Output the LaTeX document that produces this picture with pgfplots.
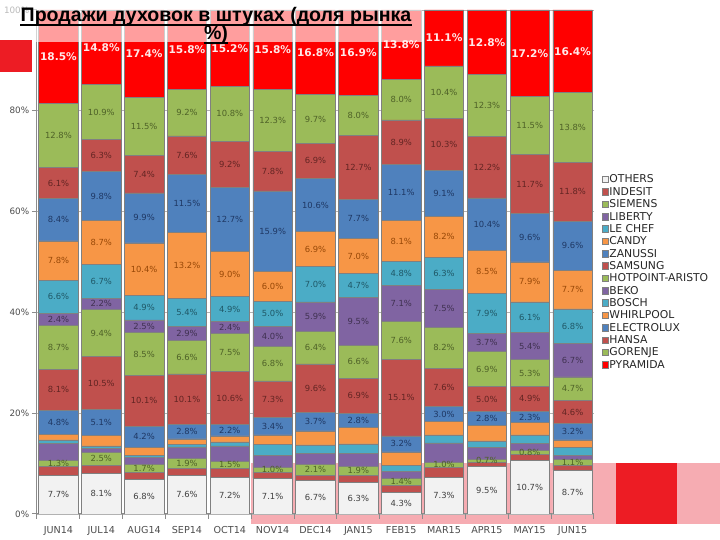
\documentclass[border=0pt]{standalone}
\usepackage{pgfplots}
\pgfplotsset{compat=1.18}
\usepackage{pgfplotstable}
\usepackage{fontspec}
\setmainfont{DejaVu Sans}
\newfontfamily\titlefont{Liberation Sans}
\definecolor{cOth}{RGB}{242,242,242}
\definecolor{cRed}{RGB}{192,80,77}
\definecolor{cGrn}{RGB}{155,187,89}
\definecolor{cPur}{RGB}{128,100,162}
\definecolor{cAqu}{RGB}{75,172,198}
\definecolor{cOrg}{RGB}{247,150,70}
\definecolor{cBlu}{RGB}{79,129,189}
\definecolor{cPyr}{RGB}{255,0,0}
\definecolor{tRed}{RGB}{99,37,35}
\definecolor{tGrn}{RGB}{79,98,40}
\definecolor{tPur}{RGB}{64,49,81}
\definecolor{tAqu}{RGB}{32,88,103}
\definecolor{tOrg}{RGB}{152,72,7}
\definecolor{tBlu}{RGB}{31,56,100}
\definecolor{tOth}{RGB}{64,64,64}
\definecolor{tPyr}{RGB}{255,232,232}
\definecolor{pinkband}{RGB}{246,172,178}
\definecolor{decored}{RGB}{237,28,36}
\newcommand\lblfont{\fontsize{4.2}{5}\selectfont}
\newcommand\lblfontB{\bfseries\fontsize{5.3}{6}\selectfont}

\pgfplotstableread{
x  OTH  IND SIE LIB LEC CAN ZAN SAM  HOT BEK BOS WHI  ELE  HAN  GOR  PYR
0  7.7  1.7 1.3 3.3 0.7 1.1 4.8 8.1  8.7 2.4 6.6 7.8  8.4  6.1  12.8 18.5
1  8.1  1.6 2.5 0.8 0.5 2.1 5.1 10.5 9.4 2.2 6.7 8.7  9.8  6.3  10.9 14.8
2  6.8  1.4 1.7 1.3 0.5 1.5 4.2 10.1 8.5 2.5 4.9 10.4 9.9  7.4  11.5 17.4
3  7.6  1.5 1.9 2.3 0.5 1.1 2.8 10.1 6.6 2.9 5.4 13.2 11.5 7.6  9.2  15.8
4  7.2  1.8 1.5 3.0 0.8 1.2 2.2 10.6 7.5 2.4 4.9 9.0  12.7 9.2  10.8 15.2
5  7.1  1.2 1.0 2.3 2.2 1.9 3.4 7.3  6.8 4.0 5.0 6.0  15.9 7.8  12.3 15.8
6  6.7  1.0 2.1 2.3 1.6 2.8 3.7 9.6  6.4 5.9 7.0 6.9  10.6 6.9  9.7  16.8
7  6.3  1.3 1.9 2.5 1.9 3.3 2.8 6.9  6.6 9.5 4.7 7.0  7.7  12.7 8.0  16.9
8  4.3  1.4 1.4 1.3 1.2 2.7 3.2 15.1 7.6 7.1 4.8 8.1  11.1 8.9  8.0  13.8
9  7.3  2.0 1.0 3.8 1.6 2.6 3.0 7.6  8.2 7.5 6.3 8.2  9.1  10.3 10.4 11.1
10 9.5  0.7 0.7 2.3 1.3 3.0 2.8 5.0  6.9 3.7 7.9 8.5  10.4 12.2 12.3 12.8
11 10.7 1.1 0.8 1.4 1.7 2.4 2.3 4.9  5.3 5.4 6.1 7.9  9.6  11.7 11.5 17.2
12 8.7  1.0 1.1 0.9 1.5 1.5 3.2 4.6  4.7 6.7 6.8 7.7  9.6  11.8 13.8 16.4
}\data

\pgfplotsset{
  seg/.style={fill=#1, draw=black!50, line width=0.3pt},
  lbl/.style n args={2}{
    nodes near coords={\pgfplotspointmeta\%},
    point meta=explicit symbolic,
    every node near coord/.append style={anchor=center,
      text=#1, font=#2, inner sep=0pt}
  },
}

\begin{document}
\begin{tikzpicture}
\path[use as bounding box] (0,0) rectangle (360pt,270pt);
% background decorations
\fill[pinkband] (125.5pt,8pt) rectangle (360pt,38.5pt);
\fill[decored] (308pt,8pt) rectangle (338.5pt,38.5pt);
\begin{axis}[
  at={(18.5pt,13pt)}, anchor=south west,
  scale only axis, width=278.5pt, height=252pt,
  ybar stacked, bar width=0.92,
  xmin=-0.5, xmax=12.5, ymin=0, ymax=100,
  enlargelimits=false,
  xtick={-0.5,0.5,...,12.5}, x tick label as interval,
  xticklabels={JUN14,JUL14,AUG14,SEP14,OCT14,NOV14,DEC14,JAN15,FEB15,MAR15,APR15,MAY15,JUN15},
  ytick={0,20,40,60,80,100},
  yticklabels={0\%,20\%,40\%,60\%,80\%,100\%},
  axis x line*=bottom, axis y line*=left,
  axis line style={draw=black!45, line width=0.5pt},
  tick align=outside, major tick length=2.5pt,
  tick style={draw=black!45, line width=0.5pt},
  ymajorgrids, grid style={draw=black!30, line width=0.4pt},
  ticklabel style={font=\fontsize{4.8}{5.5}\selectfont, text=black!70},
  yticklabel style={font=\fontsize{4.4}{5}\selectfont, inner xsep=1.2pt},
  legend style={at={(1.013,0.675)}, anchor=north west, draw=none, fill=none,
    font=\fontsize{5.4}{6}\selectfont, text=black!85, inner sep=0pt, row sep=0.87pt,
    nodes={inner sep=0.5pt, text height=3.9pt, text depth=0.4pt}},
  legend cell align=left,
  legend image code/.code={\draw[#1, line width=0.2pt] (0pt,-1.6pt) rectangle (3.2pt,1.6pt);},
]
\addplot[seg=cOth, lbl={tOth}{\lblfont}] table[x=x, y=OTH, meta=OTH] {\data};
\addlegendentry{OTHERS}
\addplot[seg=cRed] table[x=x, y=IND] {\data};
\addlegendentry{INDESIT}
\addplot[seg=cGrn, lbl={tGrn}{\lblfont}] table[x=x, y=SIE, meta=SIE] {\data};
\addlegendentry{SIEMENS}
\addplot[seg=cPur] table[x=x, y=LIB] {\data};
\addlegendentry{LIBERTY}
\addplot[seg=cAqu] table[x=x, y=LEC] {\data};
\addlegendentry{LE CHEF}
\addplot[seg=cOrg] table[x=x, y=CAN] {\data};
\addlegendentry{CANDY}
\addplot[seg=cBlu, lbl={tBlu}{\lblfont}] table[x=x, y=ZAN, meta=ZAN] {\data};
\addlegendentry{ZANUSSI}
\addplot[seg=cRed, lbl={tRed}{\lblfont}] table[x=x, y=SAM, meta=SAM] {\data};
\addlegendentry{SAMSUNG}
\addplot[seg=cGrn, lbl={tGrn}{\lblfont}] table[x=x, y=HOT, meta=HOT] {\data};
\addlegendentry{HOTPOINT-ARISTO}
\addplot[seg=cPur, lbl={tPur}{\lblfont}] table[x=x, y=BEK, meta=BEK] {\data};
\addlegendentry{BEKO}
\addplot[seg=cAqu, lbl={tAqu}{\lblfont}] table[x=x, y=BOS, meta=BOS] {\data};
\addlegendentry{BOSCH}
\addplot[seg=cOrg, lbl={tOrg}{\lblfont}] table[x=x, y=WHI, meta=WHI] {\data};
\addlegendentry{WHIRLPOOL}
\addplot[seg=cBlu, lbl={tBlu}{\lblfont}] table[x=x, y=ELE, meta=ELE] {\data};
\addlegendentry{ELECTROLUX}
\addplot[seg=cRed, lbl={tRed}{\lblfont}] table[x=x, y=HAN, meta=HAN] {\data};
\addlegendentry{HANSA}
\addplot[seg=cGrn, lbl={tGrn}{\lblfont}] table[x=x, y=GOR, meta=GOR] {\data};
\addlegendentry{GORENJE}
\addplot[seg=cPyr, lbl={tPyr}{\lblfontB}] table[x=x, y=PYR, meta=PYR] {\data};
\addlegendentry{PYRAMIDA}
\end{axis}
% foreground decorations
\fill[white, opacity=0.62] (0pt,270pt) rectangle (211pt,249pt);
\fill[decored] (0pt,250pt) rectangle (16pt,234pt);
\node[anchor=base, inner sep=0pt, font=\titlefont\bfseries\fontsize{9.8}{11}\selectfont]
  (t1) at (108pt,259pt) {Продажи духовок в штуках (доля рынка};
\draw[line width=0.8pt] ([yshift=-1.4pt]t1.base west) -- ([yshift=-1.4pt]t1.base east);
\node[anchor=base, inner sep=0pt, font=\titlefont\bfseries\fontsize{9.8}{11}\selectfont]
  (t2) at (108pt,250pt) {\%)};
\draw[line width=0.8pt] ([yshift=-1.4pt]t2.base west) -- ([yshift=-1.4pt]t2.base east);
\end{tikzpicture}
\end{document}
